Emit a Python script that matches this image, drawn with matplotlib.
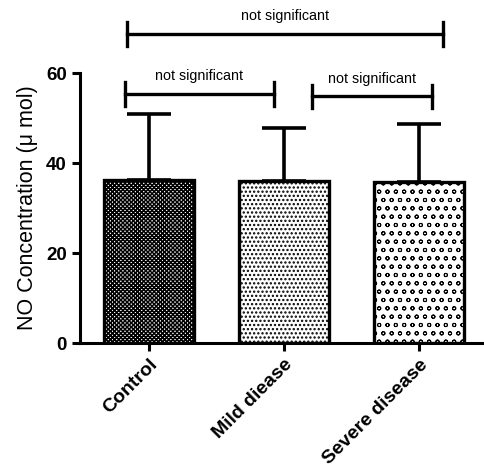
import matplotlib
matplotlib.use("Agg")
import matplotlib.pyplot as plt

plt.rcParams['font.family'] = ['Liberation Sans', 'DejaVu Sans']
plt.rcParams['hatch.linewidth'] = 1.1

groups = ["Control", "Mild diease", "Severe disease"]
means = [36.2, 35.9, 35.8]
sd_upper = [14.7, 11.9, 12.8]

# comparisons: (left, right, height, label)
pairs = [(-0.16, 2.18, 68.7, "not significant"),
         (-0.18, 0.93, 55.3, "not significant"),
         (1.21, 2.10, 54.8, "not significant")]

fig = plt.figure(figsize=(4.85, 4.68), dpi=100)
ax = fig.add_axes([0.165, 0.267, 0.835, 0.577])

x = range(len(groups))
bars = ax.bar(x, means, width=0.67, color="white", edgecolor="black", linewidth=2.4,
              hatch=["xxxxxxxx", "....", "oo"], zorder=2)
# severe disease bar gets thinner, lighter marks
if hasattr(bars[2], "set_hatch_linewidth"):
    bars[2].set_hatch_linewidth(0.7)
ax.errorbar(x, means, yerr=[[0]*3, sd_upper], fmt="none", ecolor="black",
            elinewidth=2.6, capsize=16, capthick=2.6, zorder=1)

for x0, x1, h, lab in pairs:
    ax.plot([x0, x1], [h, h], color="black", lw=2.4, clip_on=False)
    for xe in (x0, x1):
        ax.plot([xe, xe], [h - 2.6, h + 2.6], color="black", lw=2.4, clip_on=False)
    ax.text((x0 + x1) / 2, h + 2.4, lab, ha="center", va="bottom", fontsize=10.3)

ax.set_xlim(-0.51, 2.49)
ax.set_ylim(0, 60)
ax.set_yticks([0, 20, 40, 60])
ax.set_xticks(list(x))
ax.set_xticklabels(groups, rotation=45, ha="right", rotation_mode="anchor",
                   fontsize=14, fontweight="bold")
for t in ax.get_yticklabels():
    t.set_fontweight("bold")
    t.set_fontsize(13.5)
ax.set_ylabel("NO Concentration (\u03bc mol)", fontsize=15.5, labelpad=6)

ax.spines["top"].set_visible(False)
ax.spines["right"].set_visible(False)
ax.spines["left"].set_linewidth(2.2)
ax.spines["bottom"].set_linewidth(2.2)
ax.tick_params(axis="both", width=2.2, length=6, direction="out")

fig.savefig("out.png", dpi=100)
